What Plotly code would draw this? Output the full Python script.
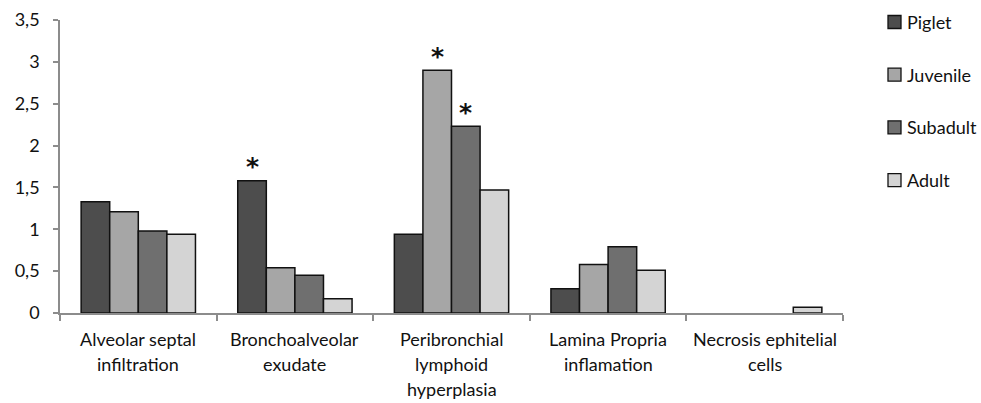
import plotly.graph_objects as go

# Histopathology scores by lesion type and age group
categories = [
    "Alveolar septal<br>infiltration",
    "Bronchoalveolar<br>exudate",
    "Peribronchial<br>lymphoid<br>hyperplasia",
    "Lamina Propria<br>inflamation",
    "Necrosis ephitelial<br>cells",
]
piglet = [1.33, 1.58, 0.94, 0.29, 0.0]
juvenile = [1.21, 0.54, 2.90, 0.58, 0.0]
subadult = [0.98, 0.45, 2.23, 0.79, 0.0]
adult = [0.94, 0.17, 1.47, 0.51, 0.07]

series_names = ["Piglet", "Juvenile", "Subadult", "Adult"]
series_values = [piglet, juvenile, subadult, adult]
series_colors = ["#4d4d4d", "#a6a6a6", "#6f6f6f", "#d4d4d4"]

# Significant differences: (category index, series index)
significant = [(1, 0), (2, 1), (2, 2)]

y_ticks = [0, 0.5, 1, 1.5, 2, 2.5, 3, 3.5]

FONT = "Lato, Open Sans, sans-serif"
BARGAP = 0.27

W, H = 981, 403
M_L, M_R, M_T, M_B = 60, 138, 20, 90
PLOT_W = W - M_L - M_R
PLOT_H = H - M_T - M_B

x_idx = list(range(len(categories)))

fig = go.Figure()
for name, vals, col in zip(series_names, series_values, series_colors):
    fig.add_trace(go.Bar(
        x=x_idx, y=vals, name=name,
        marker=dict(
            color=col,
            # empty bars get no outline
            line=dict(color="#111111", width=[1.5 if v > 0 else 0 for v in vals]),
        ),
    ))

# Asterisks over significant bars
n = len(series_names)
bar_w = (1 - BARGAP) / n
for ci, si in significant:
    xpos = ci - (1 - BARGAP) / 2 + bar_w * (si + 0.5)
    fig.add_annotation(
        x=xpos, y=series_values[si][ci], xref="x", yref="y",
        text="<b>*</b>", showarrow=False, yanchor="middle",
        yshift=14, font=dict(family="DejaVu Sans", size=25, color="#111111"),
    )

# Multi-line category labels below the axis
for ci, label in enumerate(categories):
    for li, line in enumerate(label.split("<br>")):
        fig.add_annotation(
            x=ci, y=0, xref="x", yref="paper", text=line, showarrow=False,
            yanchor="middle", yshift=-26 - 25 * li,
            font=dict(family=FONT, size=18, color="#111111"),
        )

# Legend column to the right of the plot: swatch + label per series
def px_to_paper_x(px):
    return (px - M_L) / PLOT_W

def px_to_paper_y(py):
    return (H - M_B - py) / PLOT_H

SWATCH_X0, SWATCH_SIZE, LABEL_X = 888, 13, 905
ROW_Y0, ROW_STEP = 22, 52.7
for i, (name, col) in enumerate(zip(series_names, series_colors)):
    yc = ROW_Y0 + ROW_STEP * i
    fig.add_shape(
        type="rect", xref="paper", yref="paper",
        x0=px_to_paper_x(SWATCH_X0), x1=px_to_paper_x(SWATCH_X0 + SWATCH_SIZE),
        y0=px_to_paper_y(yc + SWATCH_SIZE / 2), y1=px_to_paper_y(yc - SWATCH_SIZE / 2),
        fillcolor=col, line=dict(color="#111111", width=1.3),
    )
    fig.add_annotation(
        x=px_to_paper_x(LABEL_X), y=px_to_paper_y(yc), xref="paper", yref="paper",
        text=name, showarrow=False, xanchor="left", yanchor="middle",
        font=dict(family=FONT, size=18, color="#111111"),
    )

fig.update_layout(
    width=W, height=H,
    margin=dict(l=M_L, r=M_R, t=M_T, b=M_B, autoexpand=False),
    paper_bgcolor="white", plot_bgcolor="white",
    barmode="group", bargap=BARGAP, bargroupgap=0,
    separators=",.",
    font=dict(family=FONT, size=18, color="#111111"),
    showlegend=False,
)
fig.update_xaxes(
    type="linear", range=[-0.5, len(categories) - 0.5],
    showline=True, linecolor="#8c8c8c", linewidth=1.5,
    showgrid=False, zeroline=False, showticklabels=False,
    tickmode="array", tickvals=[i - 0.5 for i in range(len(categories) + 1)],
    ticks="outside", ticklen=6, tickcolor="#8c8c8c", tickwidth=1.5,
)
fig.update_yaxes(
    range=[0, 3.5], tickmode="array", tickvals=y_ticks,
    showline=True, linecolor="#8c8c8c", linewidth=1.5,
    showgrid=False, zeroline=False,
    ticks="outside", ticklen=5, tickcolor="#8c8c8c", tickwidth=1.5,
    tickfont=dict(family=FONT, size=18, color="#111111"),
    ticklabelstandoff=10,
)

fig.write_html("out.html")
